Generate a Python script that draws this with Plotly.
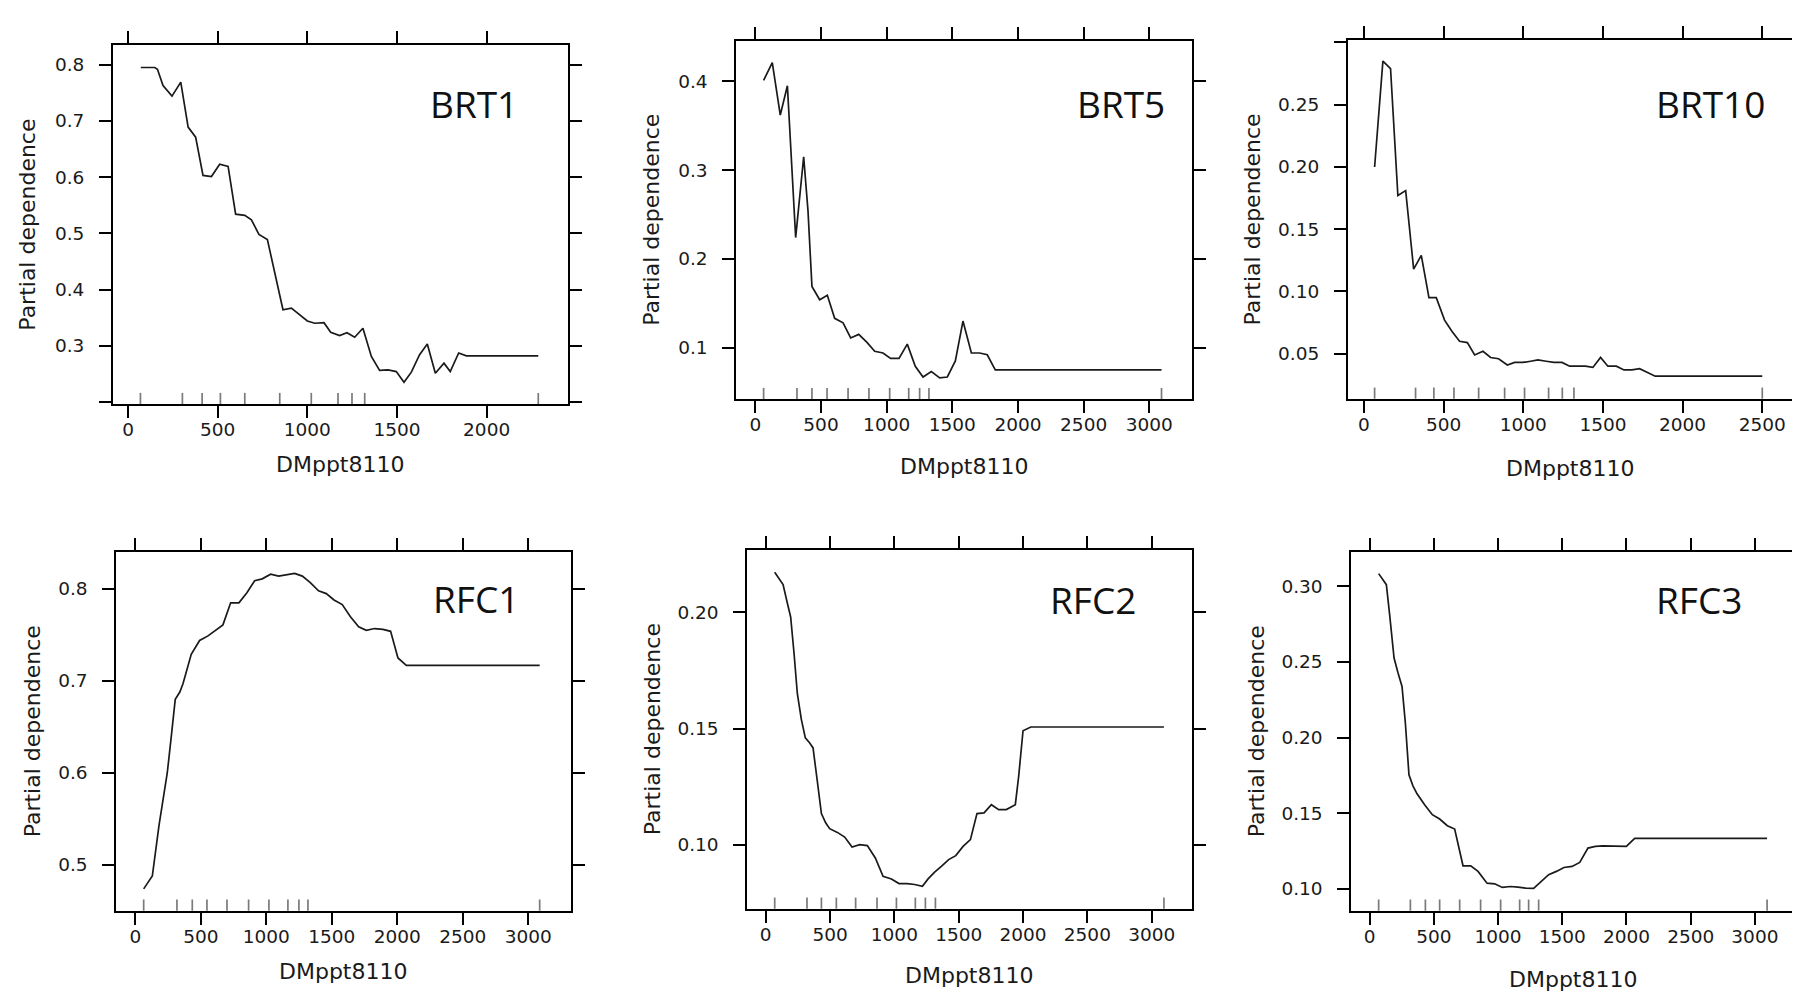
import plotly.graph_objects as go

# ---------------- data ----------------
panel_labels = ["BRT1", "BRT5", "BRT10", "RFC1", "RFC2", "RFC3"]
x_title = "DMppt8110"
y_title = "Partial dependence"

brt1_x = [71, 149, 164, 195, 245, 294, 335, 377, 418, 465, 511, 558, 600, 651, 688, 730, 777, 827, 864,
          911, 957, 1000, 1041, 1093, 1130, 1180, 1221, 1264, 1310, 1357, 1403, 1450, 1496, 1539, 1580,
          1626, 1669, 1714, 1762, 1797, 1844, 1887, 2288]
brt1_y = [0.795, 0.795, 0.792, 0.763, 0.744, 0.769, 0.689, 0.671, 0.603, 0.601, 0.623, 0.619, 0.534,
          0.532, 0.524, 0.498, 0.489, 0.414, 0.364, 0.367, 0.355, 0.344, 0.340, 0.341, 0.324, 0.318,
          0.323, 0.315, 0.331, 0.281, 0.256, 0.257, 0.254, 0.235, 0.253, 0.284, 0.303, 0.251, 0.269,
          0.254, 0.287, 0.282, 0.282]

brt5_x = [63, 129, 190, 244, 307, 368, 401, 431, 490, 548, 604, 668, 726, 787, 850, 909, 972, 1030,
          1094, 1157, 1218, 1277, 1340, 1404, 1462, 1523, 1581, 1645, 1708, 1766, 1827, 3093]
brt5_y = [0.401, 0.421, 0.362, 0.395, 0.224, 0.315, 0.254, 0.169, 0.154, 0.159, 0.133, 0.128, 0.111,
          0.115, 0.106, 0.096, 0.094, 0.088, 0.088, 0.104, 0.079, 0.067, 0.073, 0.066, 0.067, 0.085,
          0.130, 0.094, 0.094, 0.092, 0.075, 0.075]

brt10_x = [67, 119, 167, 213, 262, 312, 360, 408, 454, 506, 552, 600, 649, 695, 747, 795, 845, 900, 946,
           998, 1046, 1092, 1144, 1192, 1243, 1291, 1339, 1389, 1437, 1485, 1531, 1584, 1632, 1682,
           1730, 1778, 1828, 2500]
brt10_y = [0.200, 0.285, 0.279, 0.177, 0.181, 0.118, 0.129, 0.095, 0.095, 0.077, 0.068, 0.060, 0.059,
           0.049, 0.052, 0.047, 0.046, 0.041, 0.043, 0.043, 0.044, 0.045, 0.044, 0.043, 0.043, 0.040,
           0.040, 0.040, 0.039, 0.047, 0.040, 0.040, 0.037, 0.037, 0.038, 0.035, 0.032, 0.032]

rfc1_x = [64, 130, 181, 211, 244, 275, 305, 340, 364, 427, 491, 555, 613, 669, 728, 791, 852, 911, 969,
          1033, 1094, 1158, 1216, 1275, 1336, 1399, 1458, 1517, 1580, 1641, 1705, 1763, 1827, 1891,
          1949, 2005, 2069, 3087]
rfc1_y = [0.474, 0.488, 0.543, 0.569, 0.600, 0.640, 0.680, 0.688, 0.697, 0.729, 0.744, 0.749, 0.755,
          0.761, 0.785, 0.785, 0.796, 0.809, 0.811, 0.816, 0.814, 0.816, 0.817, 0.814, 0.807, 0.798,
          0.795, 0.788, 0.783, 0.770, 0.759, 0.755, 0.757, 0.756, 0.754, 0.725, 0.717, 0.717]

rfc2_x = [70, 135, 168, 194, 220, 246, 277, 308, 342, 368, 402, 433, 466, 497, 557, 614, 671, 731, 790,
          852, 912, 977, 1036, 1098, 1158, 1218, 1262, 1313, 1365, 1422, 1477, 1534, 1591, 1642, 1697,
          1754, 1811, 1870, 1940, 1966, 2000, 2060, 3095]
rfc2_y = [0.2172, 0.2119, 0.2040, 0.1980, 0.1825, 0.1650, 0.1540, 0.1460, 0.1438, 0.1417, 0.1270,
          0.1135, 0.1095, 0.1070, 0.1054, 0.1034, 0.0991, 0.1001, 0.0997, 0.0944, 0.0865, 0.0854,
          0.0834, 0.0834, 0.0830, 0.0822, 0.0854, 0.0883, 0.0908, 0.0937, 0.0954, 0.0994, 0.1023,
          0.1135, 0.1138, 0.1173, 0.1152, 0.1152, 0.1173, 0.1295, 0.1491, 0.1507, 0.1507]

rfc3_x = [70, 130, 156, 190, 221, 252, 278, 306, 337, 369, 428, 488, 545, 605, 662, 727, 787, 844, 914,
          974, 1033, 1096, 1155, 1215, 1277, 1337, 1394, 1454, 1513, 1576, 1636, 1700, 1758, 1817,
          1877, 1939, 1999, 2064, 3095]
rfc3_y = [0.3084, 0.3011, 0.2810, 0.2526, 0.2427, 0.2338, 0.2096, 0.1754, 0.1681, 0.1628, 0.1556,
          0.1490, 0.1461, 0.1417, 0.1395, 0.1152, 0.1152, 0.1115, 0.1037, 0.1033, 0.1009, 0.1015,
          0.1011, 0.1004, 0.1002, 0.1049, 0.1093, 0.1115, 0.1141, 0.1148, 0.1174, 0.1269, 0.1280,
          0.1284, 0.1284, 0.1280, 0.1280, 0.1333, 0.1333]

# rug (deciles of the predictor) shown along the bottom of each panel
brt1_rug = [69, 303, 413, 515, 651, 846, 1022, 1171, 1249, 1320, 2288]
brt5_rug = [63, 317, 431, 546, 706, 865, 1023, 1168, 1251, 1322, 3093]
brt10_rug = [67, 324, 439, 565, 720, 883, 1008, 1159, 1245, 1318, 2500]
rfc1_rug = [64, 318, 435, 547, 700, 865, 1020, 1165, 1249, 1318, 3087]
rfc2_rug = [70, 321, 433, 549, 699, 865, 1016, 1163, 1241, 1319, 3095]
rfc3_rug = [70, 317, 434, 545, 701, 864, 1020, 1168, 1238, 1316, 3095]

# tick values / labels
x_ticks_2000 = [0, 500, 1000, 1500, 2000]
x_ticks_2500 = [0, 500, 1000, 1500, 2000, 2500]
x_ticks_3000 = [0, 500, 1000, 1500, 2000, 2500, 3000]
brt1_yticks = [0.2, 0.3, 0.4, 0.5, 0.6, 0.7, 0.8]
brt1_ylabels = ["", "0.3", "0.4", "0.5", "0.6", "0.7", "0.8"]
brt5_yticks = [0.1, 0.2, 0.3, 0.4]
brt5_ylabels = ["0.1", "0.2", "0.3", "0.4"]
brt10_yticks = [0.05, 0.10, 0.15, 0.20, 0.25, 0.30]
brt10_ylabels = ["0.05", "0.10", "0.15", "0.20", "0.25", ""]
rfc1_yticks = [0.5, 0.6, 0.7, 0.8]
rfc1_ylabels = ["0.5", "0.6", "0.7", "0.8"]
rfc2_yticks = [0.10, 0.15, 0.20]
rfc2_ylabels = ["0.10", "0.15", "0.20"]
rfc3_yticks = [0.10, 0.15, 0.20, 0.25, 0.30]
rfc3_ylabels = ["0.10", "0.15", "0.20", "0.25", "0.30"]

# ---------------- layout / styling ----------------
W, H = 1800, 991
# plot boxes in pixels: (left, right, top, bottom)
boxes = [(105, 559.5, 37.3, 396), (728.3, 1183.6, 32.7, 391), (1340, 1783.6, 32.3, 390.7),
         (108.3, 562.6, 544, 902.7), (739.3, 1183.6, 541.7, 900.7), (1343.3, 1786.7, 544, 902.7)]
x_ranges = [[-84, 2451], [-145, 3322], [-100, 2684], [-145, 3323], [-143, 3310], [-143, 3310]]
y_ranges = [[0.1963, 0.8345], [0.0422, 0.4457], [0.0139, 0.3017], [0.4503, 0.8402],
            [0.0726, 0.2269], [0.0855, 0.3227]]
label_pos = [(466, 95), (1113, 95), (1702, 95), (468, 590), (1085, 591), (1691, 591)]
xtitle_y = [457, 458, 460, 963, 967, 971]
ytitle_x = [20, 644, 1244, 24, 644, 1248]

series = [(brt1_x, brt1_y, brt1_rug, x_ticks_2000, brt1_yticks, brt1_ylabels),
          (brt5_x, brt5_y, brt5_rug, x_ticks_3000, brt5_yticks, brt5_ylabels),
          (brt10_x, brt10_y, brt10_rug, x_ticks_2500, brt10_yticks, brt10_ylabels),
          (rfc1_x, rfc1_y, rfc1_rug, x_ticks_3000, rfc1_yticks, rfc1_ylabels),
          (rfc2_x, rfc2_y, rfc2_rug, x_ticks_3000, rfc2_yticks, rfc2_ylabels),
          (rfc3_x, rfc3_y, rfc3_rug, x_ticks_3000, rfc3_yticks, rfc3_ylabels)]

TICK_FONT = dict(family="DejaVu Sans", size=18.5, color="#1a1a1a")
TITLE_FONT = dict(family="DejaVu Sans", size=22, color="#1a1a1a")
LABEL_FONT = dict(family="Open Sans", size=37, color="#111111")

fig = go.Figure()
layout = {}
shapes = []
annotations = []

for i, (xs, ys, rug, xt, yt, ylab) in enumerate(series):
    n = i + 1
    sfx = "" if n == 1 else str(n)
    xa, ya = "x" + sfx, "y" + sfx
    left, right, top, bottom = boxes[i]

    fig.add_trace(go.Scatter(x=xs, y=ys, mode="lines", xaxis=xa, yaxis=ya,
                             line=dict(color="#1a1a1a", width=1.7), hoverinfo="skip",
                             showlegend=False))

    common = dict(showgrid=False, zeroline=False, showline=True, linewidth=2, linecolor="black",
                  mirror="ticks", ticks="outside", ticklen=12, tickwidth=2, tickcolor="black",
                  tickfont=TICK_FONT)
    layout["xaxis" + sfx] = dict(common, domain=[left / W, right / W], range=x_ranges[i],
                                 anchor=ya, tickmode="array", tickvals=xt,
                                 ticktext=[str(v) for v in xt], ticklabelstandoff=-4)
    layout["yaxis" + sfx] = dict(common, domain=[1 - bottom / H, 1 - top / H], range=y_ranges[i],
                                 anchor=xa, tickmode="array", tickvals=yt, ticktext=ylab,
                                 ticklabelstandoff=11)

    for rv in rug:
        shapes.append(dict(type="line", xref=xa, yref=ya + " domain", x0=rv, x1=rv, y0=0, y1=0.031,
                           line=dict(color="#7a7a7a", width=1.7)))

    lx, ly = label_pos[i]
    annotations.append(dict(text=panel_labels[i], x=lx / W, y=1 - ly / H, xref="paper", yref="paper",
                            xanchor="center", yanchor="middle", showarrow=False, font=LABEL_FONT))
    annotations.append(dict(text=x_title, x=(left + right) / 2 / W, y=1 - xtitle_y[i] / H,
                            xref="paper", yref="paper", xanchor="center", yanchor="middle",
                            showarrow=False, font=TITLE_FONT))
    annotations.append(dict(text=y_title, x=ytitle_x[i] / W, y=1 - (top + bottom) / 2 / H,
                            xref="paper", yref="paper", xanchor="center", yanchor="middle",
                            textangle=-90, showarrow=False, font=TITLE_FONT))

fig.update_layout(**layout)
fig.update_layout(width=W, height=H, margin=dict(l=0, r=0, t=0, b=0),
                  paper_bgcolor="white", plot_bgcolor="white", showlegend=False,
                  shapes=shapes, annotations=annotations)

fig.write_html("out.html", config={"displayModeBar": False})
